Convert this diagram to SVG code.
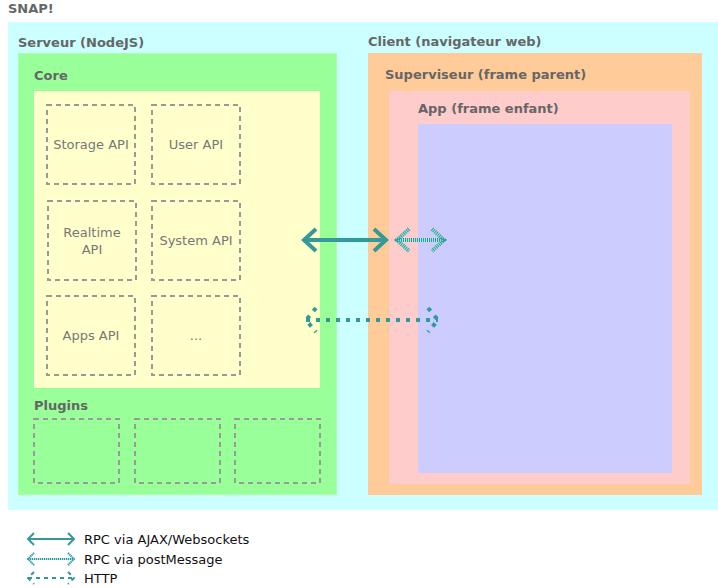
<svg xmlns="http://www.w3.org/2000/svg" width="718" height="588" viewBox="0 0 718 588">
<style>
.title{font-family:"DejaVu Sans",Verdana,sans-serif;font-size:13px;font-weight:bold;fill:#666}
.lbl{font-family:"DejaVu Sans",Verdana,sans-serif;font-size:13px;fill:#777;text-anchor:middle}
.leg{font-family:"DejaVu Sans",Verdana,sans-serif;font-size:13px;fill:#111}
.api{fill:none;stroke:#999;stroke-width:2;stroke-dasharray:5 4}
.ws{fill:none;stroke:#339999;stroke-width:4;stroke-linecap:butt}
.pmbg{fill:none;stroke:#b3e0e0;stroke-width:4}
.pm{fill:none;stroke:#339999;stroke-width:4;stroke-dasharray:1 1}
.http{fill:none;stroke:#339999;stroke-width:4;stroke-dasharray:4 6}
.ws2{fill:none;stroke:#339999;stroke-width:2}
.pmbg2{fill:none;stroke:#b3e0e0;stroke-width:2}
.pm2{fill:none;stroke:#339999;stroke-width:2;stroke-dasharray:1 1}
.http2{fill:none;stroke:#339999;stroke-width:2;stroke-dasharray:4 4}
</style>
<rect width="718" height="588" fill="#fff"/>
<text class="title" x="8" y="13">SNAP!</text>
<g id="snap">
<rect x="8" y="22" width="710" height="488" fill="#ccffff"/>
</g>
<g id="serveur">
<rect x="18.5" y="53.5" width="318" height="441" fill="#99ff99" stroke="#aaffaa" stroke-width="1"/>
<text class="title" x="18" y="47">Serveur (NodeJS)</text>
</g>
<g id="core">
<text class="title" x="34" y="80">Core</text>
<rect x="34" y="91" width="286" height="297" fill="#ffffcc"/>
</g>
<g id="storage-api"><rect class="api" x="47" y="105" width="88" height="79"/><text class="lbl" x="91" y="149">Storage API</text></g>
<g id="user-api"><rect class="api" x="152" y="105" width="88" height="79"/><text class="lbl" x="196" y="149">User API</text></g>
<g id="realtime-api"><rect class="api" x="48" y="201" width="88" height="79"/><text class="lbl" x="92" y="237">Realtime</text><text class="lbl" x="92" y="254">API</text></g>
<g id="system-api"><rect class="api" x="152" y="201" width="88" height="79"/><text class="lbl" x="196" y="245">System API</text></g>
<g id="apps-api"><rect class="api" x="47" y="296" width="88" height="79"/><text class="lbl" x="91" y="340">Apps API</text></g>
<g id="more-api"><rect class="api" x="152" y="296" width="88" height="79"/><text class="lbl" x="196" y="340">...</text></g>
<g id="plugins">
<text class="title" x="34" y="410">Plugins</text>
</g>
<g id="plugin-1"><rect class="api" x="34" y="419" width="85" height="64"/></g>
<g id="plugin-2"><rect class="api" x="135" y="419" width="85" height="64"/></g>
<g id="plugin-3"><rect class="api" x="235" y="419" width="85" height="64"/></g>
<g id="client">
<text class="title" x="368" y="46">Client (navigateur web)</text>
<rect x="368" y="53" width="334" height="442" fill="#ffcc99"/>
</g>
<g id="superviseur">
<text class="title" x="385" y="79">Superviseur (frame parent)</text>
<rect x="389" y="91" width="301" height="393" fill="#ffcccc"/>
</g>
<g id="app">
<text class="title" x="418" y="113">App (frame enfant)</text>
<rect x="418" y="124" width="254" height="349" fill="#ccccff"/>
</g>
<g id="connectors">
<path class="ws" d="M316 229 L304 240 L316 251 M304 240 L386 240 M374 229 L386 240 L374 251"/>
<path class="pmbg" d="M409 229 L397 240 L409 251 M397 240 L444 240 M432 229 L444 240 L432 251"/>
<path class="pm" d="M409 229 L397 240 L409 251 M397 240 L444 240 M432 229 L444 240 L432 251"/>
<path class="http" d="M316 308 L306 320 L316 332 M306 320 L438 320 M428 308 L438 320 L428 332"/>
</g>
<g id="legend">
<path class="ws2" d="M34 533 L28 539 L34 545 M28 539 L74 539 M68 533 L74 539 L68 545"/>
<text class="leg" x="84" y="544">RPC via AJAX/Websockets</text>
<path class="pmbg2" d="M34 553 L28 559 L34 565 M28 559 L74 559 M68 553 L74 559 L68 565"/>
<path class="pm2" d="M34 553 L28 559 L34 565 M28 559 L74 559 M68 553 L74 559 L68 565"/>
<text class="leg" x="84" y="564">RPC via postMessage</text>
<path class="http2" d="M34 572 L28 578 L34 584 M28 578 L74 578 M68 572 L74 578 L68 584"/>
<text class="leg" x="84" y="583">HTTP</text>
</g>
</svg>
